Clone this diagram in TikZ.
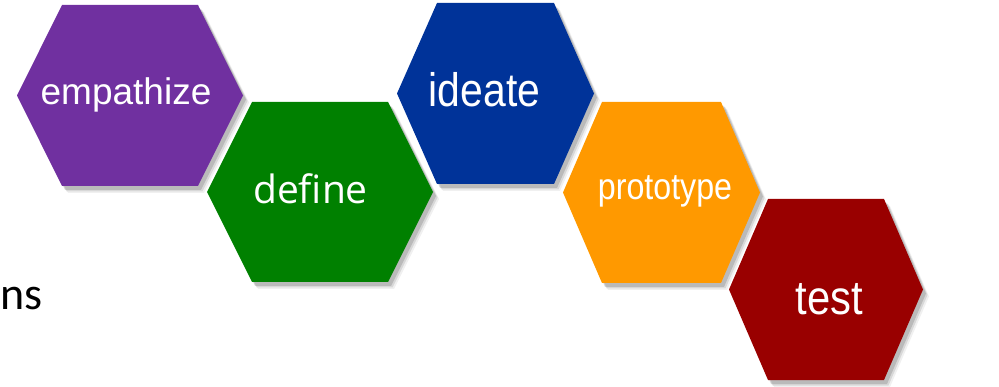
\documentclass[tikz,border=0pt]{standalone}
\usepackage{fontspec}
\setmainfont{Liberation Sans}
\newfontfamily\narrowsans[FakeStretch=0.87]{Liberation Sans}
\newfontfamily\humansans{Open Sans}
\newfontfamily\bodyfont{Carlito}
\usepackage{tikz}
\usetikzlibrary{shadows}
\definecolor{dtpurple}{RGB}{112,48,160}
\definecolor{dtgreen}{RGB}{0,128,0}
\definecolor{dtblue}{RGB}{0,51,153}
\definecolor{dtorange}{RGB}{255,153,0}
\definecolor{dtred}{RGB}{153,0,0}
\tikzstyle{hexfill} = [drop shadow={shadow xshift=6pt, shadow yshift=-7pt, fill=black, opacity=0.06},
  drop shadow={shadow xshift=4.5pt, shadow yshift=-5.5pt, fill=black, opacity=0.1},
  drop shadow={shadow xshift=3pt, shadow yshift=-4pt, fill=black, opacity=0.14}]
\tikzstyle{hexlabel} = [text=white, inner sep=0pt, anchor=base]
% #1 colour, #2 #3 centre, #4 half width, #5 corner cut, #6 half height
\newcommand{\hexshape}[6]{%
\fill[#1, hexfill] (#2-#4,#3) -- (#2-#4+#5,#3-#6) -- (#2+#4-#5,#3-#6)
  -- (#2+#4,#3) -- (#2+#4-#5,#3+#6) -- (#2-#4+#5,#3+#6) -- cycle;}

\begin{document}
\begin{tikzpicture}[x=1pt, y=-1pt]
\useasboundingbox (0,0) rectangle (999,387);
% Hexagons
\hexshape{dtpurple}{130}{95.5}{113}{45}{90.5}
\hexshape{dtgreen}{320}{192}{113}{45}{90}
\hexshape{dtblue}{495.5}{93.5}{98.5}{40}{90.5}
\hexshape{dtorange}{661.5}{192.5}{98.5}{39}{90.5}
\hexshape{dtred}{826}{289.5}{97}{39}{90.5}

% Labels
\node (empathize) [hexlabel, font=\fontsize{37}{40}\selectfont] at (126,105) {empathize};
\node (define) [hexlabel, font=\humansans\fontsize{39}{42}\selectfont] at (310.5,204) {define};
\node (ideate) [hexlabel, font=\narrowsans\fontsize{47}{50}\selectfont] at (484.5,107) {ideate};
\node (prototype) [hexlabel, font=\narrowsans\fontsize{37}{40}\selectfont] at (665,200) {prototype};
\node (test) [hexlabel, font=\narrowsans\fontsize{48}{51}\selectfont] at (829.5,315) {test};

% Cut-off body text
\node (bodytext) [inner sep=0pt, anchor=base east, font=\bodyfont\fontsize{46}{50}\selectfont] at (43,310) {ns};
\end{tikzpicture}
\end{document}
